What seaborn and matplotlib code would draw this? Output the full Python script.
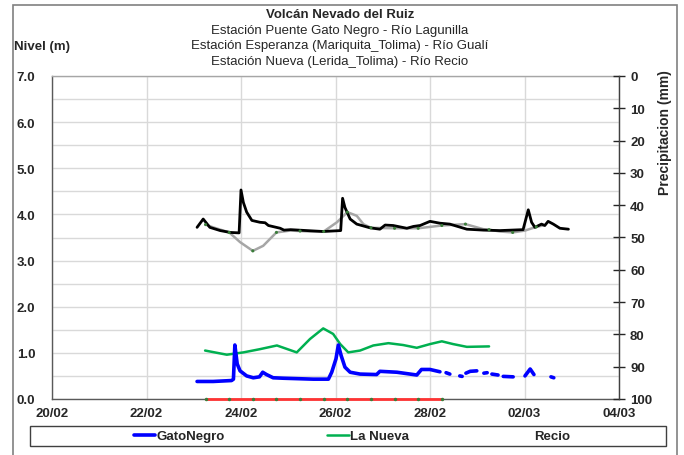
import matplotlib
matplotlib.use('Agg')
import matplotlib.pyplot as plt
import matplotlib.dates as mdates
from matplotlib.lines import Line2D
from matplotlib.patches import Rectangle
from matplotlib.ticker import MultipleLocator
import numpy as np
import pandas as pd
import seaborn as sns

# Days counted from 20/02 00:00
START = pd.Timestamp('2023-02-20')

# Esperanza (black)
esp_days = [3.07, 3.20, 3.34, 3.56, 3.77, 3.96, 4.00, 4.05, 4.12, 4.23, 4.40, 4.51,
            4.58, 4.83, 4.91, 5.05, 5.74, 6.11, 6.15, 6.20, 6.31, 6.45, 6.73, 6.94,
            7.05, 7.22, 7.51, 7.65, 7.79, 8.00, 8.21, 8.42, 8.78, 9.13, 9.48, 9.97,
            10.08, 10.15, 10.22, 10.36, 10.43, 10.50, 10.61, 10.75, 10.93]
esp_level = [3.72, 3.90, 3.72, 3.65, 3.61, 3.60, 4.53, 4.26, 4.05, 3.87, 3.83, 3.82,
             3.76, 3.70, 3.66, 3.67, 3.63, 3.65, 4.35, 4.15, 3.90, 3.79, 3.71, 3.68,
             3.77, 3.76, 3.70, 3.74, 3.76, 3.85, 3.81, 3.79, 3.68, 3.66, 3.65, 3.67,
             4.10, 3.83, 3.72, 3.79, 3.76, 3.85, 3.79, 3.70, 3.68]

# Gray series (twice daily samples at .25/.75, smoothed in between)
gray_days = [3.25, 3.41, 3.75, 3.98, 4.25, 4.47, 4.75, 5.04, 5.25, 5.46, 5.75, 6.03,
             6.25, 6.45, 6.59, 6.75, 7.25, 7.75, 8.25, 8.75, 9.13, 9.25, 9.48, 9.75,
             10.01, 10.25, 10.43]
gray_level = [3.78, 3.72, 3.61, 3.40, 3.21, 3.32, 3.61, 3.65, 3.64, 3.63, 3.63, 3.83,
              4.05, 3.97, 3.79, 3.71, 3.70, 3.70, 3.76, 3.79, 3.68, 3.67, 3.63, 3.61,
              3.65, 3.73, 3.77]

# GatoNegro (blue), seg = continuous piece
gato_days = [3.07, 3.41, 3.80, 3.84, 3.87, 3.92, 3.98, 4.12, 4.26, 4.39, 4.46, 4.54,
             4.68, 4.90, 5.53, 5.85, 5.92, 6.01, 6.06, 6.12, 6.20, 6.31, 6.52, 6.87,
             6.94, 7.30, 7.72, 7.82, 8.00, 8.21,
             8.34, 8.42, 8.63, 8.68, 8.76, 8.85, 8.99, 9.14, 9.21, 9.31, 9.44,
             9.55, 9.76, 10.01, 10.12, 10.20, 10.56, 10.62]
gato_level = [0.38, 0.38, 0.40, 0.43, 1.17, 0.76, 0.61, 0.50, 0.46, 0.48, 0.58, 0.53,
              0.46, 0.45, 0.43, 0.43, 0.58, 0.87, 1.17, 0.94, 0.69, 0.58, 0.54, 0.53,
              0.60, 0.58, 0.52, 0.64, 0.64, 0.59,
              0.57, 0.54, 0.50, 0.49, 0.56, 0.60, 0.61, 0.56, 0.57, 0.54, 0.52,
              0.49, 0.48, 0.50, 0.65, 0.53, 0.48, 0.46]
gato_seg = [1] * 30 + [2, 2, 3, 3, 4, 4, 4, 5, 5, 6, 6, 7, 7, 8, 8, 8, 9, 9]

# La Nueva (green)
nueva_days = [3.24, 3.70, 4.05, 4.40, 4.76, 5.18, 5.46, 5.74, 5.95, 6.10, 6.27, 6.52,
              6.80, 7.12, 7.43, 7.72, 8.00, 8.25, 8.49, 8.78, 9.25]
nueva_level = [1.05, 0.96, 1.01, 1.08, 1.16, 1.01, 1.30, 1.53, 1.41, 1.19, 1.01, 1.05,
               1.16, 1.21, 1.17, 1.11, 1.19, 1.25, 1.19, 1.13, 1.14]

# Recio (red)
recio_days = [3.25, 3.75, 4.25, 4.75, 5.25, 5.75, 6.25, 6.75, 7.25, 7.75, 8.25]
recio_level = [0.0] * 11

xtick_days = [0, 2, 4, 6, 8, 10, 12]


def frame(days, level, **extra):
    d = pd.DataFrame({'days': days, 'level': level})
    d['time'] = START + pd.to_timedelta(d['days'], unit='D')
    for k, v in extra.items():
        d[k] = v
    return d


sns.set_style('white')
plt.rcParams['font.family'] = ['Liberation Sans', 'DejaVu Sans']

fig = plt.figure(figsize=(6.84, 4.56), dpi=100)
ax = fig.add_axes([52 / 684, 1 - 400 / 456, (619 - 52) / 684, (400 - 77) / 456])

grid_c = '#d9d9d9'
ax.set_axisbelow(True)

gray_df = frame(gray_days, gray_level)
sns.lineplot(data=gray_df, x='time', y='level', ax=ax, color='#a6a6a6', lw=1.8,
             estimator=None, sort=False)
samples = gray_df[np.isclose(gray_df['days'] % 0.5, 0.25)]
sns.scatterplot(data=samples, x='time', y='level', ax=ax, color='#3a7d3a', s=5,
                edgecolor='none', zorder=3)
sns.lineplot(data=frame(esp_days, esp_level), x='time', y='level', ax=ax,
             color='black', lw=2.0, estimator=None, sort=False)
sns.lineplot(data=frame(nueva_days, nueva_level), x='time', y='level', ax=ax,
             color='#00b050', lw=1.8, estimator=None, sort=False)
sns.lineplot(data=frame(gato_days, gato_level, seg=gato_seg), x='time', y='level',
             units='seg', ax=ax, color='#0000ff', lw=2.6, estimator=None, sort=False)
sns.lineplot(data=frame(recio_days, recio_level), x='time', y='level', ax=ax,
             color='#ff3333', lw=2.0, marker='o', ms=2.5, mfc='#3a7d3a', mec='none',
             estimator=None, sort=False, clip_on=False, zorder=5)

ax.set_xlim(START, START + pd.Timedelta(days=12))
ax.set_ylim(0, 7)
ax.set_xticks([START + pd.Timedelta(days=d) for d in xtick_days])
ax.xaxis.set_major_formatter(mdates.DateFormatter('%d/%m'))
ax.yaxis.set_major_locator(MultipleLocator(1))
ax.yaxis.set_minor_locator(MultipleLocator(0.5))
ax.yaxis.set_major_formatter(lambda v, p: f'{v:.1f}')
ax.grid(True, which='both', axis='y', color=grid_c, lw=1)
ax.grid(True, which='major', axis='x', color=grid_c, lw=1)
ax.tick_params(axis='both', which='both', length=0)
ax.tick_params(axis='y', pad=12, labelsize=9.5)
ax.tick_params(axis='x', pad=6, labelsize=9.5)
for lab in ax.get_xticklabels() + ax.get_yticklabels():
    lab.set_fontweight('bold')
ax.set_xlabel('')
ax.set_ylabel('')
for s in ax.spines.values():
    s.set_color('#595959')
    s.set_linewidth(1)
ax.spines['top'].set_color('#a6a6a6')

ax2 = ax.twinx()
ax2.set_ylim(100, 0)
ax2.yaxis.set_major_locator(MultipleLocator(10))
ax2.tick_params(axis='y', direction='inout', length=8, width=1, pad=4, labelsize=9.5)
for lab in ax2.get_yticklabels():
    lab.set_fontweight('bold')
for s in ax2.spines.values():
    s.set_visible(False)
ax2.spines['right'].set_visible(True)
ax2.spines['right'].set_color('#404040')

# Titles and axis titles
fig.text(340 / 684, 1 - 15 / 456, 'Volcán Nevado del Ruiz', ha='center', va='center',
         fontsize=9.5, fontweight='bold')
subs = ['Estación Puente Gato Negro - Río Lagunilla',
        'Estación Esperanza (Mariquita_Tolima) - Río Gualí',
        'Estación Nueva (Lerida_Tolima) - Río Recio']
for i, t in enumerate(subs):
    fig.text(340 / 684, 1 - (31 + 15.5 * i) / 456, t, ha='center', va='center',
             fontsize=9.5)
fig.text(14 / 684, 1 - 47 / 456, 'Nivel (m)', ha='left', va='center',
         fontsize=9.5, fontweight='bold')
fig.text(665 / 684, 1 - 133 / 456, 'Precipitacion (mm)', ha='center', va='center',
         rotation=90, fontsize=10, fontweight='bold')

# Legend
handles = [Line2D([], [], color='#0000ff', lw=2.6),
           Line2D([], [], color='#00b050', lw=1.8),
           Line2D([], [], color='none')]
fig.legend(handles, ['GatoNegro', 'La Nueva', 'Recio'], ncol=3, loc='center',
           bbox_to_anchor=(352 / 684, 1 - 437 / 456), frameon=False,
           prop={'weight': 'bold', 'size': 9.5}, handlelength=1.6,
           handletextpad=0.1, columnspacing=7.8)
fig.add_artist(Rectangle((30 / 684, 1 - 447 / 456), (666 - 30) / 684, 20 / 456,
                         transform=fig.transFigure, fill=False, ec='#404040', lw=1))
fig.add_artist(Rectangle((13 / 684, -0.05), (677 - 13) / 684, 1.05 - 6 / 456,
                         transform=fig.transFigure, fill=False, ec='#808080', lw=1.2))

fig.savefig('out.png', dpi=100)
